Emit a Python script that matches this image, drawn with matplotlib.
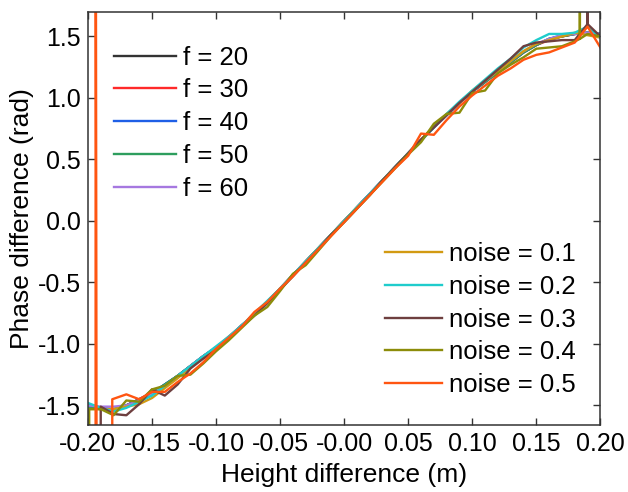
import numpy as np
import matplotlib
matplotlib.use("Agg")
import matplotlib.pyplot as plt

plt.rcParams['font.family'] = ['Liberation Sans', 'DejaVu Sans']
plt.rcParams['axes.unicode_minus'] = False

# common height grid (m)
height = np.round(np.arange(-0.20, 0.2001, 0.01), 2)

# simulated phase difference for different f (rad)
f20 = [-1.49, -1.52, -1.54, -1.50, -1.45, -1.40, -1.33, -1.26, -1.18, -1.10, -1.03,
       -0.95, -0.85, -0.76, -0.66, -0.55, -0.44, -0.33, -0.22, -0.11, 0.00,
       0.11, 0.22, 0.33, 0.44, 0.55, 0.66, 0.76, 0.86, 0.96, 1.05,
       1.13, 1.21, 1.29, 1.37, 1.43, 1.48, 1.50, 1.52, 1.53, 1.52]
f30 = [-1.51, -1.53, -1.54, -1.50, -1.45, -1.40, -1.34, -1.26, -1.18, -1.10, -1.03,
       -0.94, -0.85, -0.76, -0.66, -0.55, -0.44, -0.33, -0.22, -0.11, 0.00,
       0.11, 0.22, 0.33, 0.44, 0.55, 0.66, 0.76, 0.86, 0.96, 1.05,
       1.13, 1.21, 1.29, 1.37, 1.43, 1.47, 1.50, 1.52, 1.52, 1.51]
f40 = [-1.51, -1.52, -1.53, -1.50, -1.45, -1.40, -1.33, -1.26, -1.18, -1.10, -1.03,
       -0.95, -0.85, -0.76, -0.66, -0.55, -0.44, -0.33, -0.22, -0.11, 0.00,
       0.11, 0.22, 0.33, 0.44, 0.55, 0.66, 0.76, 0.86, 0.96, 1.05,
       1.13, 1.21, 1.29, 1.37, 1.43, 1.48, 1.51, 1.52, 1.53, 1.52]
f50 = [-1.52, -1.53, -1.53, -1.50, -1.46, -1.40, -1.33, -1.26, -1.18, -1.10, -1.03,
       -0.95, -0.85, -0.76, -0.66, -0.55, -0.44, -0.33, -0.22, -0.11, 0.00,
       0.11, 0.22, 0.33, 0.44, 0.55, 0.66, 0.76, 0.86, 0.96, 1.05,
       1.13, 1.21, 1.29, 1.37, 1.43, 1.48, 1.50, 1.52, 1.53, 1.52]
f60 = [-1.50, -1.51, -1.51, -1.50, -1.46, -1.41, -1.34, -1.27, -1.18, -1.10, -1.03,
       -0.95, -0.85, -0.76, -0.66, -0.55, -0.44, -0.33, -0.22, -0.11, 0.00,
       0.11, 0.22, 0.33, 0.44, 0.55, 0.66, 0.76, 0.86, 0.96, 1.05,
       1.14, 1.22, 1.30, 1.38, 1.44, 1.48, 1.51, 1.52, 1.53, 1.52]

# noisy cases
noise01 = [-1.53, -1.53, -1.53, -1.51, -1.49, -1.44, -1.36, -1.28, -1.19, -1.11, -1.04,
           -0.95, -0.86, -0.76, -0.66, -0.55, -0.45, -0.33, -0.22, -0.11, 0.00,
           0.11, 0.21, 0.33, 0.44, 0.55, 0.66, 0.77, 0.87, 0.96, 1.06,
           1.14, 1.22, 1.30, 1.38, 1.44, 1.47, 1.50, 1.53, 1.51, 1.49]
noise02 = [-1.48, -1.52, -1.55, -1.52, -1.47, -1.42, -1.34, -1.26, -1.18, -1.10, -1.02,
           -0.94, -0.85, -0.75, -0.65, -0.55, -0.44, -0.33, -0.22, -0.11, 0.00,
           0.11, 0.22, 0.33, 0.44, 0.55, 0.65, 0.76, 0.87, 0.97, 1.06,
           1.15, 1.24, 1.32, 1.41, 1.47, 1.52, 1.52, 1.53, 1.58, 1.49]

noise03_x = [-0.19, -0.19, -0.18, -0.17, -0.16, -0.15, -0.14, -0.13, -0.12, -0.11, -0.10,
             -0.09, -0.08, -0.07, -0.06, -0.05, -0.04, -0.03, -0.02, -0.01, 0.00,
             0.01, 0.02, 0.03, 0.04, 0.05, 0.06, 0.07, 0.08, 0.09, 0.10,
             0.11, 0.12, 0.13, 0.14, 0.15, 0.16, 0.17, 0.18, 0.19, 0.19, 0.19, 0.20]
noise03 = [-4.0, -1.51, -1.57, -1.58, -1.49, -1.37, -1.42, -1.33, -1.20, -1.12, -1.05,
           -0.96, -0.86, -0.77, -0.67, -0.56, -0.45, -0.34, -0.23, -0.11, -0.01,
           0.10, 0.21, 0.33, 0.44, 0.55, 0.66, 0.76, 0.86, 0.96, 1.05,
           1.14, 1.23, 1.32, 1.42, 1.45, 1.46, 1.47, 1.47, 1.60, 4.0, 1.60, 1.50]

noise04_x = [-0.199, -0.199, -0.19, -0.18, -0.17, -0.16, -0.15, -0.14, -0.13, -0.12, -0.11, -0.10,
             -0.09, -0.08, -0.07, -0.06, -0.05, -0.04, -0.03, -0.02, -0.01, 0.00,
             0.01, 0.02, 0.03, 0.04, 0.05, 0.06, 0.07, 0.08, 0.09, 0.10,
             0.11, 0.12, 0.13, 0.14, 0.15, 0.16, 0.17, 0.18, 0.184, 0.184, 0.184, 0.19, 0.20]
noise04 = [-4.0, -1.53, -1.53, -1.58, -1.46, -1.47, -1.37, -1.34, -1.26, -1.25, -1.16, -1.06,
           -0.97, -0.87, -0.77, -0.70, -0.57, -0.43, -0.36, -0.24, -0.12, -0.01,
           0.10, 0.21, 0.32, 0.43, 0.54, 0.64, 0.79, 0.87, 0.88, 1.04,
           1.06, 1.20, 1.27, 1.33, 1.40, 1.41, 1.42, 1.46, 1.48, 4.0, 1.48, 1.52, 1.50]

noise05_x = [-0.194, -0.194, -0.193, -0.181, -0.181, -0.17, -0.16, -0.15, -0.14, -0.13, -0.12, -0.11, -0.10,
             -0.09, -0.08, -0.07, -0.06, -0.05, -0.04, -0.03, -0.02, -0.01, 0.00,
             0.01, 0.02, 0.03, 0.04, 0.05, 0.06, 0.07, 0.08, 0.09, 0.10,
             0.11, 0.12, 0.13, 0.14, 0.15, 0.16, 0.17, 0.18, 0.19, 0.20]
noise05 = [-4.0, 4.0, -4.0, -4.0, -1.45, -1.41, -1.45, -1.39, -1.39, -1.31, -1.24, -1.15, -1.04,
           -0.95, -0.86, -0.74, -0.66, -0.55, -0.45, -0.34, -0.23, -0.12, -0.01,
           0.10, 0.21, 0.32, 0.43, 0.53, 0.71, 0.70, 0.82, 0.93, 1.02,
           1.10, 1.18, 1.24, 1.31, 1.35, 1.37, 1.41, 1.45, 1.58, 1.41]

f_labels = ['f = 20', 'f = 30', 'f = 40', 'f = 50', 'f = 60']
f_colors = ['#333333', '#ff2a2a', '#1f5fe6', '#2e9e5e', '#a678e0']
noise_labels = ['noise = 0.1', 'noise = 0.2', 'noise = 0.3', 'noise = 0.4', 'noise = 0.5']
noise_colors = ['#d29a12', '#1fcccc', '#6e3f3f', '#8c8c0a', '#ff5511']

fig = plt.figure(figsize=(6.28, 4.92), dpi=100)
ax = fig.add_axes([0.140, 0.136, 0.816, 0.840])

f_lines = []
for y, lab, c in zip([f20, f30, f40, f50, f60], f_labels, f_colors):
    ln, = ax.plot(height, y, color=c, lw=1.7, label=lab)
    f_lines.append(ln)

noise_x = [height, height, noise03_x, noise04_x, noise05_x]
noise_y = [noise01, noise02, noise03, noise04, noise05]
n_lines = []
for x, y, lab, c in zip(noise_x, noise_y, noise_labels, noise_colors):
    ln, = ax.plot(x, y, color=c, lw=1.7, label=lab)
    n_lines.append(ln)

ax.set_xlim(-0.2, 0.2)
ax.set_ylim(-1.66, 1.70)
ax.set_xticks(np.arange(-0.2, 0.2001, 0.05))
ax.set_xticklabels(['%.2f' % v for v in np.arange(-0.2, 0.2001, 0.05)])
ax.set_yticks([-1.5, -1.0, -0.5, 0.0, 0.5, 1.0, 1.5])
ax.set_yticklabels(['%.1f' % v for v in [-1.5, -1.0, -0.5, 0.0, 0.5, 1.0, 1.5]])
ax.tick_params(direction='in', top=True, right=True, length=5, width=1,
               labelsize=18, pad=5, color='#333333')
for s in ax.spines.values():
    s.set_linewidth(1.1)
    s.set_color('#333333')

ax.set_xlabel('Height difference (m)', fontsize=19, labelpad=5)
ax.set_ylabel('Phase difference (rad)', fontsize=19, labelpad=3)

leg1 = ax.legend(handles=f_lines, loc='upper left', bbox_to_anchor=(0.051, 0.918),
                 frameon=False, fontsize=18.5, handlelength=2.4, handletextpad=0.27,
                 labelspacing=0.34, borderaxespad=0, borderpad=0)
ax.add_artist(leg1)
ax.legend(handles=n_lines, loc='lower right', bbox_to_anchor=(0.951, 0.068),
          frameon=False, fontsize=18.5, handlelength=2.2, handletextpad=0.27,
          labelspacing=0.34, borderaxespad=0, borderpad=0)

fig.savefig('out.png', dpi=100)
